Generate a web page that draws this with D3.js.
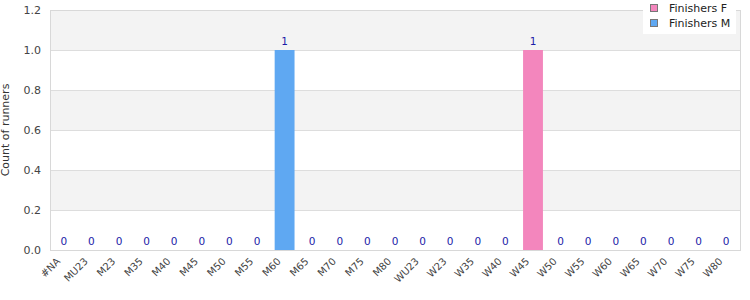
<!DOCTYPE html>
<html><head><meta charset="utf-8">
<script src="https://cdn.jsdelivr.net/npm/d3@7/dist/d3.min.js"></script>
<style>body{margin:0;background:#fff;} svg{display:block;font-family:"DejaVu Sans",sans-serif;}</style>
</head><body><svg id="c" width="750" height="300"></svg>
<script>
const categories = ["#NA","MU23","M23","M35","M40","M45","M50","M55","M60","M65","M70","M75","M80","WU23","W23","W35","W40","W45","W50","W55","W60","W65","W70","W75","W80"];
const finishersF = [0,0,0,0,0,0,0,0,0,0,0,0,0,0,0,0,0,1,0,0,0,0,0,0,0];
const finishersM = [0,0,0,0,0,0,0,0,1,0,0,0,0,0,0,0,0,0,0,0,0,0,0,0,0];
const yTicks = [0,0.2,0.4,0.6,0.8,1.0,1.2];
const seriesNames = ["Finishers F","Finishers M"];
const seriesColors = ["#f386bd","#5fa8f2"];

const svg = d3.select("#c");
const m = {l:50,r:10,t:10,b:50};
const W = 750, H = 300;
const x = d3.scaleBand().domain(categories).range([m.l, W-m.r]).paddingInner(0.28).paddingOuter(0.14);
const y = d3.scaleLinear().domain([0,1.2]).range([H-m.b, m.t]);

// stripes
for (let i=0;i<yTicks.length-1;i++){
  svg.append("rect").attr("x",m.l).attr("width",W-m.r-m.l)
    .attr("y",y(yTicks[i+1])).attr("height",y(yTicks[i])-y(yTicks[i+1]))
    .attr("fill", i%2===1 ? "#f3f3f3" : "#ffffff");
}
// grid
svg.append("g").selectAll("line").data(yTicks).join("line")
  .attr("x1",m.l).attr("x2",W-m.r).attr("y1",d=>y(d)).attr("y2",d=>y(d))
  .attr("stroke","#dddddd").attr("stroke-width",1).attr("shape-rendering","crispEdges");
// border
svg.append("rect").attr("x",m.l).attr("y",m.t).attr("width",W-m.r-m.l).attr("height",H-m.b-m.t)
  .attr("fill","none").attr("stroke","#d8d8d8").attr("shape-rendering","crispEdges");

// bars
const totals = categories.map((c,i)=>finishersF[i]+finishersM[i]);
const series = [finishersF, finishersM];
series.forEach((vals,si)=>{
  svg.append("g").selectAll("rect").data(categories).join("rect")
    .attr("x",d=>x(d)).attr("width",x.bandwidth())
    .attr("y",(d,i)=>{const base = si===0?0:finishersF[i]; return y(base+vals[i]);})
    .attr("height",(d,i)=>y(0)-y(vals[i]))
    .attr("fill",seriesColors[si]);
});
// value labels
svg.append("g").selectAll("text").data(categories).join("text")
  .attr("x",d=>x(d)+x.bandwidth()/2)
  .attr("y",(d,i)=>y(totals[i])-5)
  .attr("text-anchor","middle").attr("font-size",10.5).attr("fill","#1c1ca8")
  .text((d,i)=>totals[i]);

// y axis
const ya = svg.append("g").attr("transform",`translate(${m.l},0)`)
  .call(d3.axisLeft(y).tickValues(yTicks).tickFormat(d3.format(".1f")).tickSize(0).tickPadding(9));
ya.select(".domain").remove();
ya.selectAll("text").attr("font-size",11).attr("fill","#444").attr("font-family","DejaVu Sans");

// x axis labels rotated -45deg, end-anchored just below each band
svg.append("g").selectAll("text").data(categories).join("text")
  .attr("transform",d=>`translate(${x(d)+x.bandwidth()/2-3},${H-m.b+12}) rotate(-45)`)
  .attr("text-anchor","end")
  .attr("font-size",10).attr("fill","#444")
  .text(d=>d);

// y title
svg.append("text").attr("transform",`translate(9,${(m.t+H-m.b)/2}) rotate(-90)`)
  .attr("text-anchor","middle").attr("font-size",11).attr("fill","#333").text("Count of runners");

// legend
const lg = svg.append("g");
lg.append("rect").attr("x",643).attr("y",0).attr("width",93).attr("height",34).attr("fill","#fff");
seriesNames.forEach((n,i)=>{
  const cy = 8 + i*15;
  lg.append("rect").attr("x",650.5).attr("y",cy-3.5).attr("width",7).attr("height",7)
    .attr("fill",seriesColors[i]).attr("stroke","#777").attr("stroke-width",1);
  lg.append("text").attr("x",669).attr("y",cy+4).attr("font-size",11).attr("fill","#222").text(n);
});
</script></body></html>
